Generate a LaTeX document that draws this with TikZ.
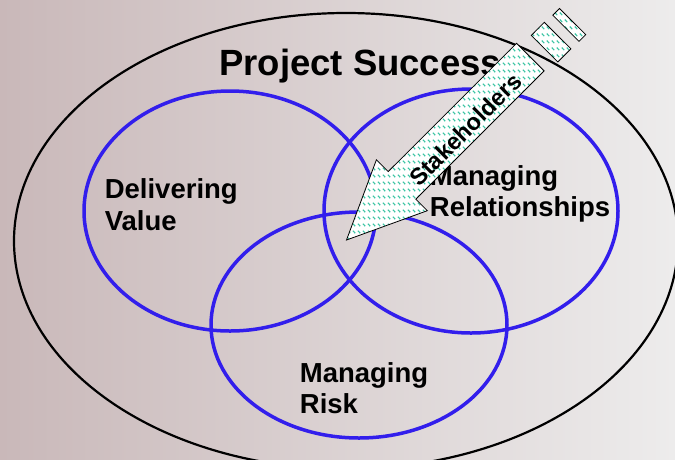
\documentclass[tikz,border=0pt]{standalone}
\usepackage{fontspec}
\setmainfont{Liberation Sans}
\usetikzlibrary{patterns}
\definecolor{bgleft}{RGB}{201,184,185}
\definecolor{bgright}{RGB}{237,236,236}
\definecolor{vennblue}{RGB}{50,30,236}
\definecolor{dashteal}{RGB}{60,196,164}
\pgfdeclarepatternformonly{stakedash}{\pgfqpoint{0pt}{0pt}}{\pgfqpoint{4.5pt}{7pt}}{\pgfqpoint{4.5pt}{7pt}}{%
  \pgfsetlinewidth{1.3pt}%
  \pgfpathmoveto{\pgfqpoint{0.9pt}{6pt}}%
  \pgfpathlineto{\pgfqpoint{3.6pt}{3.2pt}}%
  \pgfusepath{stroke}}
\tikzset{
  venn/.style={draw=vennblue, line width=3.5pt},
  outerring/.style={draw=black, line width=2.2pt},
  label/.style={anchor=base west, inner sep=0pt, align=left,
    font=\fontsize{27.5}{31.5}\selectfont\bfseries},
  titletext/.style={anchor=base west, inner sep=0pt,
    font=\fontsize{36.5}{40}\selectfont\bfseries},
  arrowbody/.style={preaction={fill=white}, pattern=stakedash,
    pattern color=dashteal, draw=black, line width=0.8pt, line join=miter},
  arrowtext/.style={inner sep=0pt, rotate=45,
    font=\fontsize{23.5}{26}\selectfont\bfseries}
}
\begin{document}
\begin{tikzpicture}[x=1pt,y=-1pt]
\useasboundingbox (0,0) rectangle (675,459);
\clip (0,0) rectangle (675,459);
\shade[left color=bgleft, right color=bgright] (0,0) rectangle (675,459);
% outer ellipse
\draw[outerring] (346,241) ellipse [x radius=332pt, y radius=228pt];
% Venn ellipses
\draw[venn] (230,211) ellipse [x radius=146pt, y radius=120pt];
\draw[venn] (471,211) ellipse [x radius=147pt, y radius=122pt];
\draw[venn] (359,325) ellipse [x radius=148pt, y radius=113pt];
% labels
\node[titletext] (title) at (219,75) {Project Success};
\node[label] (value) at (104.6,230) {Delivering\\Value};
\node[label] (rel) at (429.7,216.7) {Managing\\Relationships};
\node[label] (risk) at (299.7,413.5) {Managing\\Risk};
% stakeholders arrow
\draw[arrowbody] (346.5,240) -- (376.4,159.8) -- (388.2,171.6) -- (516.6,43.3)
  -- (544.1,70.9) -- (415.8,199.2) -- (427.3,210.7) -- cycle;
\draw[arrowbody] (531.3,35.4) -- (544.3,22.3) -- (570.9,48.8) -- (557.8,61.9) -- cycle;
\draw[arrowbody] (552.8,15.2) -- (559.5,8.5) -- (585.7,34.6) -- (579.0,41.4) -- cycle;
\node[arrowtext] (stake) at (465.5,129.5) {Stakeholders};
\end{tikzpicture}
\end{document}
